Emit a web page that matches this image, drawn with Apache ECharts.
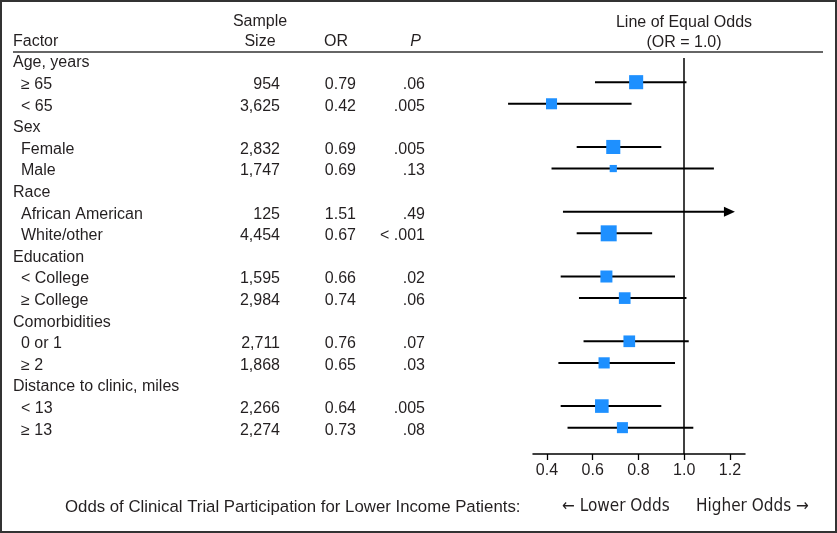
<!DOCTYPE html>
<html>
<head>
<meta charset="utf-8">
<script src="https://cdn.jsdelivr.net/npm/echarts@6/dist/echarts.min.js"></script>
<style>
  html, body { margin: 0; padding: 0; background: #fff; }
  #chart { width: 837px; height: 533px; }
</style>
</head>
<body>
<div id="chart"></div>
<script>
// table rows, top to bottom (group headings carry no numbers)
var factors = ['Age, years', '≥ 65', '< 65', 'Sex', 'Female', 'Male', 'Race', 'African American', 'White/other',
  'Education', '< College', '≥ College', 'Comorbidities', '0 or 1', '≥ 2', 'Distance to clinic, miles', '< 13', '≥ 13'];
var sampleSize = ['', '954', '3,625', '', '2,832', '1,747', '', '125', '4,454', '', '1,595', '2,984', '', '2,711', '1,868', '', '2,266', '2,274'];
var oddsRatio = [null, 0.79, 0.42, null, 0.69, 0.69, null, 1.51, 0.67, null, 0.66, 0.74, null, 0.76, 0.65, null, 0.64, 0.73];
var pValue = ['', '.06', '.005', '', '.005', '.13', '', '.49', '< .001', '', '.02', '.06', '', '.07', '.03', '', '.005', '.08'];
// 95% CI (upper bound for African American runs off the scale)
var ciLow = [null, 0.61, 0.23, null, 0.53, 0.42, null, 0.47, 0.53, null, 0.46, 0.54, null, 0.56, 0.45, null, 0.46, 0.49];
var ciHigh = [null, 1.01, 0.77, null, 0.90, 1.13, null, 4.85, 0.86, null, 0.96, 1.01, null, 1.02, 0.96, null, 0.90, 1.04];
// relative box weight
var weight = [null, 0.88, 0.69, null, 0.88, 0.45, null, 0, 1.0, null, 0.75, 0.73, null, 0.73, 0.70, null, 0.85, 0.69];

var xTicks = [0.4, 0.6, 0.8, 1.0, 1.2];
var headFactor = 'Factor';
var headSample = 'Sample\nSize';
var headOR = 'OR';
var headP = 'P';
var headLine = 'Line of Equal Odds\n(OR = 1.0)';
var footText = 'Odds of Clinical Trial Participation for Lower Income Patients:';
var footLower = '← Lower Odds';
var footHigher = 'Higher Odds →';

var X_MIN = 0.339, X_MAX = 1.266;
var ARROW_CAP = 1.222;
var Y_MIN = -1, Y_MAX = 18.22;
var BOX = 16;
var FONT = 'Liberation Sans, Arial, sans-serif';
var NARROW = 'Liberation Sans Narrow, DejaVu Sans Condensed, sans-serif';
var FS = 16;
var INK = '#231f20';

var chart = echarts.init(document.getElementById('chart'));

function rowIndex(v, n) {
  var i = Math.round(v);
  if (Math.abs(v - i) > 1e-6 || i < 0 || i >= n) return -1;
  return i;
}

// all table columns go through rich text so they sit on the same baseline
var rich = {
  g: { fontSize: FS, color: INK, fontFamily: FONT, padding: [5, 0, 0, 0] },
  s: { fontSize: FS, color: INK, fontFamily: FONT, padding: [5, 0, 0, 8] },
  n: { fontSize: FS, color: INK, fontFamily: FONT, padding: [5, 0, 0, 0] }
};

function yAxisCol(arr, offset, extra) {
  var ax = {
    type: 'value', gridIndex: 0, position: 'left', offset: offset, inverse: true,
    min: Y_MIN, max: Y_MAX, interval: 1,
    axisLine: { show: false }, axisTick: { show: false }, splitLine: { show: false },
    axisLabel: {
      margin: 0, color: INK, fontSize: FS, fontFamily: FONT, rich: rich,
      formatter: function (v) {
        var i = rowIndex(v, arr.length);
        return i < 0 || arr[i] === '' ? '' : '{n|' + arr[i] + '}';
      }
    }
  };
  if (extra) Object.assign(ax.axisLabel, extra);
  return ax;
}

var factorAxis = yAxisCol(factors, 0, {
  align: 'left', margin: 520,
  formatter: function (v) {
    var i = rowIndex(v, factors.length);
    if (i < 0) return '';
    return oddsRatio[i] == null ? '{g|' + factors[i] + '}' : '{s|' + factors[i] + '}';
  }
});

var ciData = [];
var boxData = [];
factors.forEach(function (f, i) {
  if (ciLow[i] == null) return;
  ciData.push([ciLow[i], ciHigh[i], i]);
  if (oddsRatio[i] <= X_MAX) {
    boxData.push({ value: [oddsRatio[i], i], symbolSize: weight[i] * BOX });
  }
});

function renderCI(params, api) {
  var row = api.value(2);
  var hi = api.value(1);
  var capped = hi > ARROW_CAP;
  var s = api.coord([api.value(0), row]);
  var e = api.coord([capped ? ARROW_CAP : hi, row]);
  var kids = [{
    type: 'line',
    shape: { x1: s[0], y1: s[1], x2: capped ? e[0] - 8 : e[0], y2: e[1] },
    style: { stroke: '#000', lineWidth: 2 }
  }];
  if (capped) {
    kids.push({
      type: 'polygon',
      shape: { points: [[e[0], e[1]], [e[0] - 11, e[1] - 5], [e[0] - 11, e[1] + 5]] },
      style: { fill: '#000' }
    });
  }
  return { type: 'group', children: kids };
}

function txt(x, y, text, opt) {
  return {
    type: 'text', x: x, y: y, silent: true,
    style: Object.assign({ text: text, fill: INK, font: FS + 'px ' + FONT, textVerticalAlign: 'middle' }, opt || {})
  };
}

var option = {
  animation: false,
  backgroundColor: '#fff',
  textStyle: { fontFamily: FONT },
  grid: { left: 533, right: 92, top: 39, bottom: 79, containLabel: false },
  xAxis: {
    type: 'value', min: X_MIN, max: X_MAX,
    axisLine: { show: true, onZero: false, lineStyle: { color: '#000', width: 1.5 } },
    axisTick: { show: true, length: 6, customValues: xTicks, lineStyle: { color: '#000', width: 1.3 } },
    axisLabel: {
      customValues: xTicks, margin: 9, color: INK, fontSize: FS, fontFamily: FONT,
      formatter: function (v) { return v.toFixed(1); }
    },
    splitLine: { show: false }
  },
  yAxis: [
    factorAxis,
    yAxisCol(sampleSize, 253),
    yAxisCol(oddsRatio.map(function (v) { return v == null ? '' : v.toFixed(2); }), 177),
    yAxisCol(pValue, 108)
  ],
  series: [
    {
      type: 'custom', renderItem: renderCI, data: ciData, z: 2,
      encode: { x: [0, 1], y: 2 }, silent: true
    },
    {
      type: 'scatter', symbol: 'rect', data: boxData, z: 3, silent: true,
      itemStyle: { color: '#1e90ff', opacity: 1 },
      markLine: {
        silent: true, symbol: ['none', 'none'], label: { show: false },
        lineStyle: { color: '#000', width: 1.5, type: 'solid' },
        data: [[{ coord: [1, -0.12] }, { coord: [1, Y_MAX] }]]
      }
    }
  ],
  graphic: [
    { type: 'rect', silent: true, shape: { x: 1, y: 1, width: 835, height: 531 },
      style: { fill: 'none', stroke: '#333', lineWidth: 2 } },
    { type: 'line', silent: true, shape: { x1: 13, y1: 52, x2: 823, y2: 52 },
      style: { stroke: '#333', lineWidth: 1.3 } },
    txt(13, 42, headFactor),
    txt(260, 32, headSample, { textAlign: 'center', lineHeight: 20 }),
    txt(336, 42, headOR, { textAlign: 'center' }),
    txt(421, 42, headP, { textAlign: 'right', font: 'italic ' + FS + 'px ' + FONT }),
    txt(684, 33, headLine, { textAlign: 'center', lineHeight: 20 }),
    txt(65, 507, footText, { font: '16.8px ' + FONT }),
    txt(562, 507, footLower, { font: '17px ' + NARROW }),
    txt(696, 507, footHigher, { font: '17px ' + NARROW })
  ]
};

chart.setOption(option);
</script>
</body>
</html>
